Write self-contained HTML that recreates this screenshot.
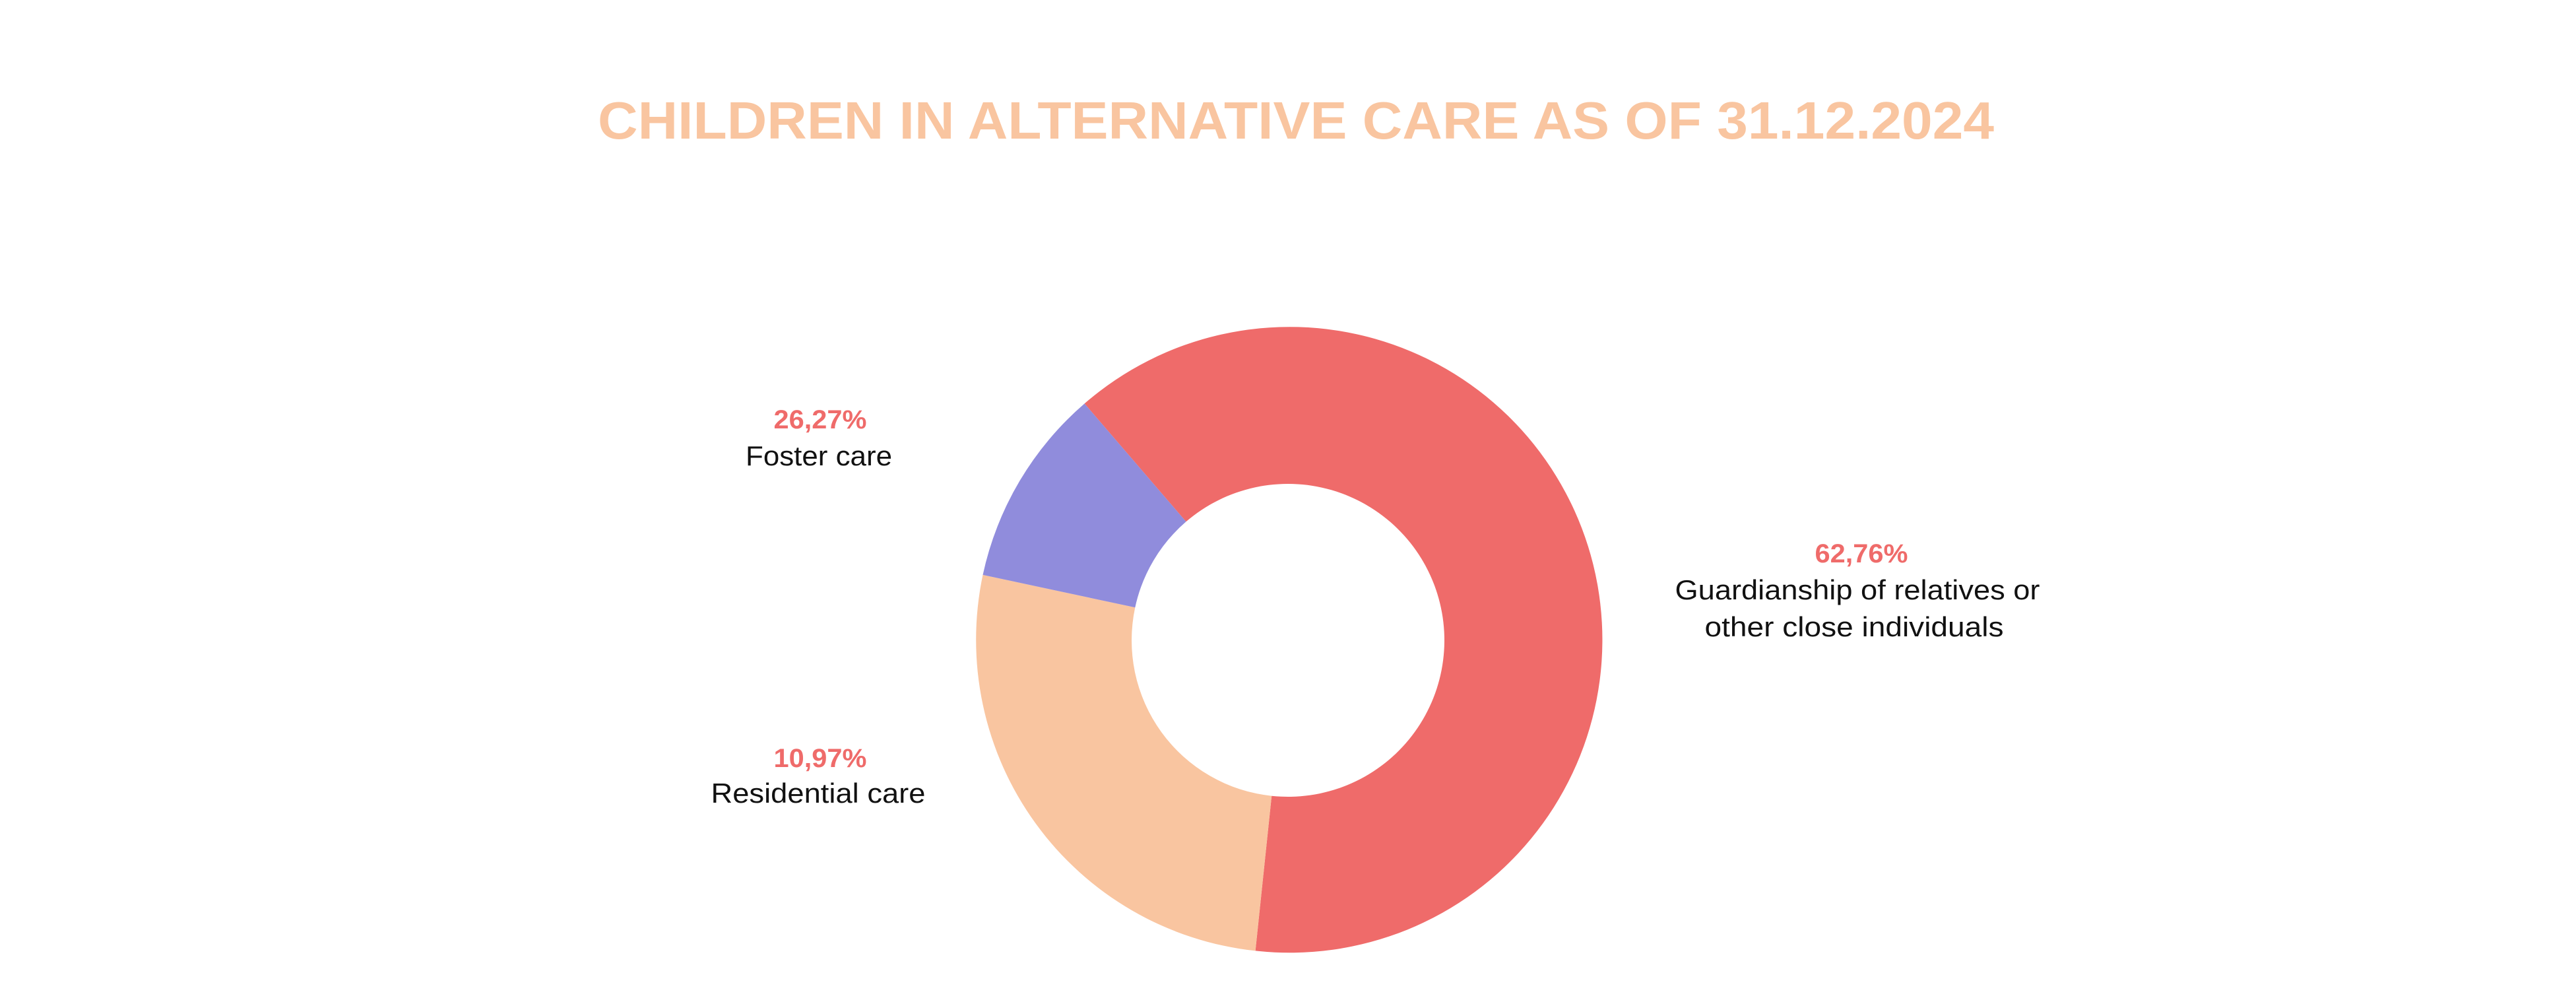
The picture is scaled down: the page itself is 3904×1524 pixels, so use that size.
<!DOCTYPE html>
<html><head><meta charset="utf-8"><style>
html,body{margin:0;padding:0;background:#fff;}
svg{display:block;}
</style></head><body>
<svg width="3904" height="1524" viewBox="0 0 3904 1524" xmlns="http://www.w3.org/2000/svg">
<rect width="3904" height="1524" fill="#fff"/>
<text x="1964" y="210" text-anchor="middle" font-family="Liberation Sans, sans-serif" font-weight="bold" font-size="80" fill="#F9C5A0" textLength="2116" lengthAdjust="spacingAndGlyphs">CHILDREN IN ALTERNATIVE CARE AS OF 31.12.2024</text>
<g transform="translate(0,-13)">
<path d="M1643.6,624.4 A474,474 0 1 1 1902.6,1453.4 L1927.2,1218.7 A237,237 0 1 0 1797.5,803.3 Z" fill="#EF6B6A"/>
<path d="M1902.6,1453.4 A474,474 0 0 1 1489.5,883.9 L1720.3,933.3 A237,237 0 0 0 1927.2,1218.7 Z" fill="#F9C5A0"/>
<path d="M1489.5,883.9 A474,474 0 0 1 1643.6,624.4 L1797.5,803.3 A237,237 0 0 0 1720.3,933.3 Z" fill="#908CDC"/>
</g>
<g font-family="Liberation Sans, sans-serif" text-anchor="middle">
<text x="1243" y="649" font-size="40" font-weight="bold" fill="#EF6B6A" textLength="141" lengthAdjust="spacingAndGlyphs">26,27%</text>
<text x="1241" y="705" font-size="42" fill="#111" textLength="222" lengthAdjust="spacingAndGlyphs">Foster care</text>
<text x="1243" y="1162" font-size="40" font-weight="bold" fill="#EF6B6A" textLength="141" lengthAdjust="spacingAndGlyphs">10,97%</text>
<text x="1240" y="1216" font-size="42" fill="#111" textLength="325" lengthAdjust="spacingAndGlyphs">Residential care</text>
<text x="2821" y="852" font-size="40" font-weight="bold" fill="#EF6B6A" textLength="141" lengthAdjust="spacingAndGlyphs">62,76%</text>
<text x="2815" y="908" font-size="42" fill="#111" textLength="553" lengthAdjust="spacingAndGlyphs">Guardianship of relatives or</text>
<text x="2810" y="964" font-size="42" fill="#111" textLength="453" lengthAdjust="spacingAndGlyphs">other close individuals</text>
</g>
</svg>
</body></html>
